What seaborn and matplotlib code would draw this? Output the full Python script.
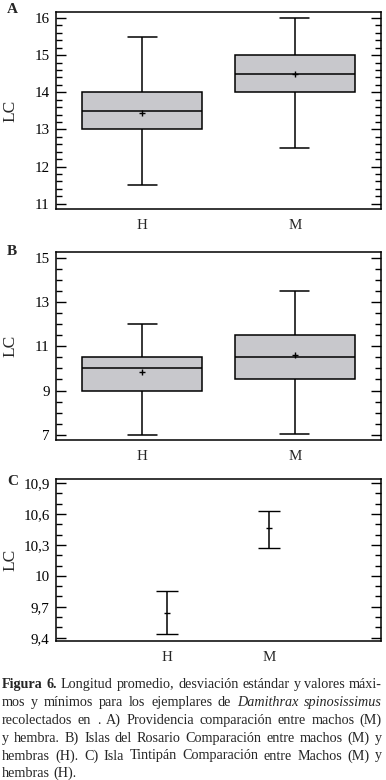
import numpy as np
import pandas as pd
import matplotlib
matplotlib.use("Agg")
import matplotlib.pyplot as plt
import seaborn as sns
from matplotlib.ticker import MultipleLocator, FixedLocator

# Data
sexes = ["H", "M"]

# A) Providencia - five number summary per sex
a_min = [11.5, 12.5]
a_q1 = [13.0, 14.0]
a_med = [13.5, 14.5]
a_q3 = [14.0, 15.0]
a_max = [15.5, 16.0]
a_mean = [13.45, 14.5]

# B) Islas del Rosario
b_min = [7.0, 7.05]
b_q1 = [9.0, 9.5]
b_med = [10.0, 10.5]
b_q3 = [10.5, 11.5]
b_max = [12.0, 13.5]
b_mean = [9.85, 10.6]
b_ticks = [7, 9, 11, 13, 15]

# C) Isla Tintipan - mean and interval
c_mean = [9.64, 10.46]
c_low = [9.44, 10.27]
c_high = [9.85, 10.63]
c_ticks = [9.4, 9.7, 10.0, 10.3, 10.6, 10.9]
c_ticklabels = ["9,4", "9,7", "10", "10,3", "10,6", "10,9"]

W, H = 386, 780
sns.set_style("ticks")
plt.rcParams["font.family"] = ["Liberation Serif", "DejaVu Serif"]

fig = plt.figure(figsize=(W / 100, H / 100), dpi=100)


def px_axes(left, top, right, bottom):
    return fig.add_axes([left / W, 1 - bottom / H, (right - left) / W, (bottom - top) / H])


def five_num_frame(mins, q1s, meds, q3s, maxs):
    rows = []
    for s, lo, a, m, b, hi in zip(sexes, mins, q1s, meds, q3s, maxs):
        for v in (lo, a, m, b, hi):
            rows.append({"sexo": s, "LC": v})
    return pd.DataFrame(rows)


def style_axes(ax, ticks, minor, ylim):
    ax.set_ylim(*ylim)
    ax.yaxis.set_major_locator(FixedLocator(ticks))
    ax.yaxis.set_minor_locator(MultipleLocator(minor))
    ax.tick_params(axis="y", which="both", direction="in", left=True, right=True,
                   colors="black", labelsize=10.8, pad=4.5)
    ax.tick_params(axis="y", which="major", length=7, width=1)
    ax.tick_params(axis="y", which="minor", length=4, width=1)
    ax.tick_params(axis="x", length=0, pad=7, labelsize=10.8)
    for sp in ax.spines.values():
        sp.set_visible(True)
        sp.set_color("black")
        sp.set_linewidth(1.1)
    ax.set_xlabel("")
    ax.set_ylabel("LC", fontsize=12.5)
    ax.yaxis.set_label_coords(-0.115, 0.5)


def draw_box(ax, df, means):
    sns.boxplot(data=df, x="sexo", y="LC", order=sexes, ax=ax, whis=(0, 100),
                width=0.79, color="#c8c8cc", saturation=1, linecolor="black",
                linewidth=1.1, fliersize=0, capwidths=0.19)
    ax.plot([0, 1], means, linestyle="none", marker="+", ms=5, mew=1, color="black")
    ax.set_xlim(-0.564, 1.564)


# Panel A
axA = px_axes(56, 12, 381, 209)
draw_box(axA, five_num_frame(a_min, a_q1, a_med, a_q3, a_max), a_mean)
style_axes(axA, [11, 12, 13, 14, 15, 16], 0.2, (10.86, 16.16))

# Panel B
axB = px_axes(56, 252, 381, 440)
draw_box(axB, five_num_frame(b_min, b_q1, b_med, b_q3, b_max), b_mean)
style_axes(axB, b_ticks, 0.5, (6.77, 15.25))

# Panel C
axC = px_axes(56, 479, 381, 641)
mean = np.array(c_mean)
axC.errorbar([0, 1], mean, yerr=[mean - np.array(c_low), np.array(c_high) - mean],
             fmt="_", ms=5, mew=1, color="black", ecolor="black", elinewidth=1.1,
             capsize=7.6, capthick=1.1)
axC.set_xticks([0, 1], sexes)
axC.set_xlim(-1.09, 2.10)
style_axes(axC, c_ticks, 0.1, (9.368, 10.94))
axC.set_yticklabels(c_ticklabels)

# Panel letters
for letter, (x, y) in zip(["A", "B", "C"], [(7, 3), (7, 245), (7, 475)]):
    fig.text(x / W, 1 - y / H, letter, fontsize=11, fontweight="bold", va="top", ha="left")

# Caption (justified lines)
caption = [
    [("Figura", "bold"), ("6.", "bold"), ("Longitud", ""), ("promedio,", ""), ("desviación", ""),
     ("estándar", ""), ("y", ""), ("valores", ""), ("máxi-", "")],
    [("mos", ""), ("y", ""), ("mínimos", ""), ("para", ""), ("los", ""), ("ejemplares", ""),
     ("de", ""), ("Damithrax", "italic"), ("spinosissimus", "italic")],
    [("recolectados", ""), ("en", ""), (".", ""), ("A)", ""), ("Providencia", ""),
     ("comparación", ""), ("entre", ""), ("machos", ""), ("(M)", "")],
    [("y", ""), ("hembra.", ""), ("B)", ""), ("Islas", ""), ("del", ""), ("Rosario", ""),
     ("Comparación", ""), ("entre", ""), ("machos", ""), ("(M)", ""), ("y", "")],
    [("hembras", ""), ("(H).", ""), ("C)", ""), ("Isla", ""), ("Tintipán", ""),
     ("Comparación", ""), ("entre", ""), ("Machos", ""), ("(M)", ""), ("y", "")],
    [("hembras", ""), ("(H).", "")],
]
baselines = [688, 706, 724, 742, 759.5, 777]

renderer = fig.canvas.get_renderer()
x0, x1 = 2, 382
fs = 10.2
for i, (words, yb) in enumerate(zip(caption, baselines)):
    texts = []
    for w, st in words:
        kw = {}
        if st == "bold":
            kw["fontweight"] = "bold"
        elif st == "italic":
            kw["fontstyle"] = "italic"
        t = fig.text(0, 1 - yb / H, w, fontsize=fs, va="baseline", ha="left", **kw)
        texts.append(t)
    widths = [t.get_window_extent(renderer).width for t in texts]
    last = i == len(caption) - 1
    gap = 3.5 if last else (x1 - x0 - sum(widths)) / (len(words) - 1)
    x = x0
    for t, wd in zip(texts, widths):
        t.set_x(x / W)
        x += wd + gap

fig.savefig("out.png", dpi=100)
